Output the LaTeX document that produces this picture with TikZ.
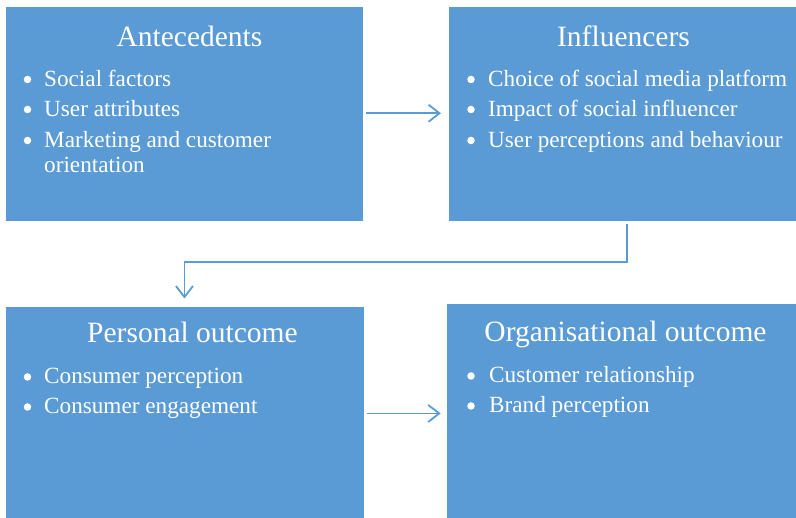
\documentclass[tikz,border=0pt]{standalone}
\usepackage{fontspec}
\setmainfont{Liberation Serif}
\usetikzlibrary{arrows.meta,calc}
\definecolor{boxblue}{HTML}{5B9BD5}
\begin{document}
\begin{tikzpicture}[x=1pt,y=-1pt,
  panel/.style={draw=none,fill=boxblue,inner sep=0pt,anchor=north west},
  heading/.style={text=white,inner sep=0pt,anchor=base,font=\fontsize{29.5}{29.5}\selectfont},
  itemtext/.style={text=white,inner sep=0pt,anchor=base west,font=\fontsize{23.2}{23.2}\selectfont},
  dot/.style={circle,fill=white,draw=none,inner sep=0pt,minimum size=7.5pt},
  flow/.style={draw=boxblue,line width=1.8pt,-{Straight Barb[length=11pt,width=17pt,line width=1.8pt]}}]
\useasboundingbox (0,0) rectangle (796,518);

% four panels
\node[panel,minimum width=357pt,minimum height=213.7pt] (ante) at (6,7) {};
\node[panel,minimum width=348.5pt,minimum height=213.7pt] (infl) at (448.5,7) {};
\node[panel,minimum width=357.5pt,minimum height=212.5pt] (pers) at (6,306.5) {};
\node[panel,minimum width=350.3pt,minimum height=214.7pt] (org) at (446.7,304.3) {};

% Antecedents
\node[heading] (anteT) at (189.5,47) {Antecedents};
\node[dot] (anteB1) at (27.5,79.5) {};
\node[itemtext] (anteI1) at (44,87) {Social factors};
\node[dot] (anteB2) at (27.5,109.5) {};
\node[itemtext] (anteI2) at (44,117) {User attributes};
\node[dot] (anteB3) at (27.5,140.5) {};
\node[itemtext] (anteI3) at (44,148) {Marketing and customer};
\node[itemtext] (anteI3b) at (44,173) {orientation};

% Influencers
\node[heading] (inflT) at (623.5,47) {Influencers};
\node[dot] (inflB1) at (471,79.5) {};
\node[itemtext] (inflI1) at (488,87) {Choice of social media platform};
\node[dot] (inflB2) at (471,109.5) {};
\node[itemtext] (inflI2) at (488,117) {Impact of social influencer};
\node[dot] (inflB3) at (471,140.5) {};
\node[itemtext] (inflI3) at (488,148) {User perceptions and behaviour};

% Personal outcome
\node[heading] (persT) at (192.5,343) {Personal outcome};
\node[dot] (persB1) at (27.5,377) {};
\node[itemtext] (persI1) at (44,384) {Consumer perception};
\node[dot] (persB2) at (27.5,407) {};
\node[itemtext] (persI2) at (44,414) {Consumer engagement};

% Organisational outcome
\node[heading] (orgT) at (625.5,342) {Organisational outcome};
\node[dot] (orgB1) at (471,376) {};
\node[itemtext] (orgI1) at (489,383) {Customer relationship};
\node[dot] (orgB2) at (471,406) {};
\node[itemtext] (orgI2) at (489,413) {Brand perception};

% connectors
\coordinate (a1) at ($(ante.east)+(3,-0.8)$);
\coordinate (a2) at ($(infl.west)+(-7.5,-0.8)$);
\draw[flow] (a1) -- (a2);

\coordinate (c1) at ($(infl.south)+(4.25,2.5)$);
\coordinate (c2) at ($(pers.north)+(-0.5,-44.5)$);
\coordinate (c3) at ($(pers.north)+(-0.5,-8)$);
\draw[flow] (c1) |- (c2) -- (c3);

\coordinate (b1) at ($(pers.east)+(3.5,0.5)$);
\coordinate (b2) at (b1 -| org.west);
\draw[flow] (b1) -- ($(b2)+(-6,0)$);
\end{tikzpicture}
\end{document}
